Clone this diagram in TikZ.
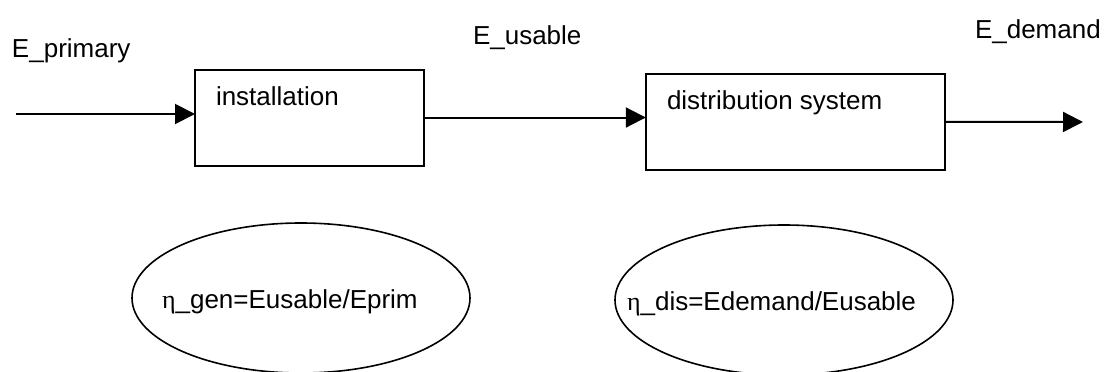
\documentclass[tikz,border=0pt]{standalone}
\usepackage{fontspec}
\setmainfont{Liberation Sans}
\newfontfamily\etafont{Liberation Serif}
\usetikzlibrary{arrows.meta,shapes.geometric}

\begin{document}
\begin{tikzpicture}[x=1pt,y=-1pt,
  txt/.style={anchor=base west,inner sep=0pt,outer sep=0pt,font=\fontsize{26}{31}\selectfont},
  blockbox/.style={draw,line width=2pt,inner sep=0pt,outer sep=0pt,minimum height=96pt},
  ratio/.style={draw,ellipse,line width=1.6pt,inner sep=0pt,outer sep=0pt,minimum width=338pt,minimum height=150pt},
  flow/.style={line width=2pt,-{Triangle[length=20pt,width=20pt]}}]
\path[use as bounding box] (0,0) rectangle (1104,372);
\begin{scope}
\path[clip] (0,0) rectangle (1104,372);

% blocks
\node[blockbox,minimum width=229pt] (inst) at (309.5,117.5) {};
\node[blockbox,minimum width=299pt] (dist) at (795.3,121.8) {};

\node[txt] (instlbl) at (216,105) {installation};
\node[txt] (distlbl) at (667,109) {distribution system};

% energy labels
\node[txt] (eprim) at (12,57) {E\_primary};
\node[txt] (eusab) at (473,44) {E\_usable};
\node[txt] (edem) at (975,38) {E\_demand};

% flows
\coordinate (pin) at (16,114);
\coordinate (pout) at (1083,122);
\draw[flow] (pin) -- (pin -| inst.west);
\draw[flow] (inst.east) -- (inst.east -| dist.west);
\draw[flow] (dist.east) -- (pout);

% efficiencies
\node[ratio] (gen) at (301,298) {};
\node[ratio] (dis) at (784,300) {};

\node[txt] (genlbl) at (162,308) {{\etafont η}\_gen=Eusable/Eprim};
\node[txt] (dislbl) at (627,310) {{\etafont η}\_dis=Edemand/Eusable};
\end{scope}
\end{tikzpicture}
\end{document}
